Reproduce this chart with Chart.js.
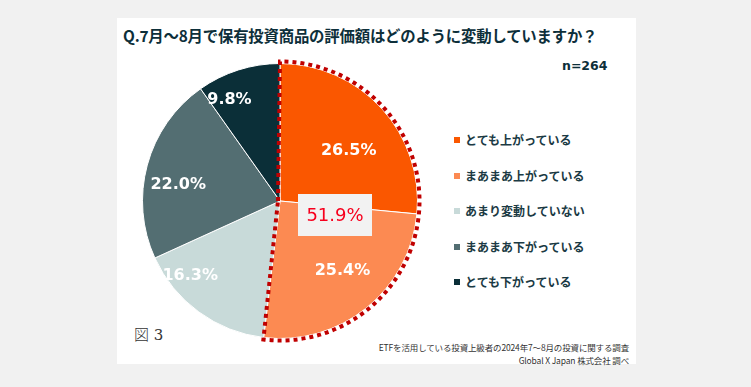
<!DOCTYPE html>
<html>
<head>
<meta charset="utf-8">
<script src="https://cdn.jsdelivr.net/npm/chart.js@4"></script>
<style>
  html, body { margin: 0; padding: 0; }
  body { width: 751px; height: 387px; background: #f1f1f1; position: relative; overflow: hidden;
         font-family: "Noto Sans CJK JP", "DejaVu Sans", sans-serif; }
  #card { position: absolute; left: 117px; top: 18px; width: 519px; height: 346px; background: #fff; }
  #title { position: absolute; left: 123px; top: 24px; font-size: 15.4px; font-weight: bold; color: #0d2f3a; white-space: nowrap; letter-spacing: -0.2px; }
  #n { position: absolute; left: 562px; top: 58px; font-family: "DejaVu Sans", sans-serif; font-size: 12.5px; font-weight: bold; color: #0d2f3a; }
  #fig { position: absolute; left: 134px; top: 323px; font-size: 15px; color: #333; font-family: "DejaVu Serif", "Noto Sans CJK JP", serif; }
  #fig .k { font-family: "Noto Sans CJK JP"; font-weight: 300; }
  #note { position: absolute; right: 122px; top: 341px; font-size: 8.5px; line-height: 13px; color: #333; text-align: right; white-space: nowrap; letter-spacing: -0.15px; }
  #legend { position: absolute; left: 454px; top: 131px; }
  #legend div { height: 35.5px; font-size: 12px; font-weight: bold; color: #1b3a44; white-space: nowrap; }
  #legend span { display: inline-block; width: 6px; height: 6px; margin-right: 5px; vertical-align: 2px; }
  canvas { position: absolute; left: 0; top: 0; }
</style>
</head>
<body>
<div id="card"></div>
<div id="title">Q.7月～8月で保有投資商品の評価額はどのように変動していますか？</div>
<div id="n">n=264</div>
<div id="legend"></div>
<div id="fig"><span class="k">図</span> 3</div>
<div id="note">ETFを活用している投資上級者の2024年7～8月の投資に関する調査<br>Global X Japan 株式会社 調べ</div>
<div style="position:absolute;left:0;top:0;width:751px;height:387px"><canvas id="myChart" width="751" height="387"></canvas></div>
<script>
// 回答データ
const labels = ['とても上がっている', 'まあまあ上がっている', 'あまり変動していない', 'まあまあ下がっている', 'とても下がっている'];
const values = [26.5, 25.4, 16.3, 22.0, 9.8];
const colors = ['#fa5700', '#fc8a52', '#c8dad9', '#536e72', '#0b2f38'];
const upTotal = '51.9%';

// ラベル位置の微調整 (角度のずれ(度), 半径に対する比率)
const labelNudge = [[6, 0.62], [-3, 0.68], [14, 0.85], [-6, 0.75], [-9, 0.82]];

const legendEl = document.getElementById('legend');
labels.forEach((l, i) => {
  const d = document.createElement('div');
  d.innerHTML = '<span style="background:' + colors[i] + '"></span>' + l;
  legendEl.appendChild(d);
});

const pieLabels = {
  id: 'pieLabels',
  afterDatasetsDraw(chart) {
    const c = chart.ctx;
    const arcs = chart.getDatasetMeta(0).data;
    const cx = arcs[0].x, cy = arcs[0].y, r = arcs[0].outerRadius;

    // 上がっている(合計)の点線枠
    c.save();
    c.strokeStyle = '#c00000';
    c.lineWidth = 4;
    c.setLineDash([4, 4]);
    c.beginPath();
    c.moveTo(cx - 2, cy);
    c.arc(cx, cy, r + 2, arcs[0].startAngle, arcs[1].endAngle);
    c.closePath();
    c.stroke();
    c.restore();

    // 各項目の％
    c.save();
    c.fillStyle = '#fff';
    c.font = 'bold 16px "DejaVu Sans"';
    c.textAlign = 'center';
    c.textBaseline = 'middle';
    arcs.forEach((a, i) => {
      const mid = (a.startAngle + a.endAngle) / 2 + labelNudge[i][0] * Math.PI / 180;
      const rr = r * labelNudge[i][1];
      c.fillText(values[i].toFixed(1) + '%', cx + Math.cos(mid) * rr, cy + Math.sin(mid) * rr);
    });

    // 合計ボックス
    c.fillStyle = '#f2f2f2';
    c.fillRect(cx + 18, cy - 7, 74, 42);
    c.fillStyle = '#f7001e';
    c.font = '18px "DejaVu Sans"';
    c.fillText(upTotal, cx + 55, cy + 15);
    c.restore();
  }
};

new Chart(document.getElementById('myChart'), {
  type: 'pie',
  data: {
    labels: labels,
    datasets: [{
      data: values,
      backgroundColor: colors,
      borderColor: '#fff',
      borderWidth: 1
    }]
  },
  options: {
    responsive: false,
    animation: false,
    layout: { padding: { left: 142, right: 333, top: 63, bottom: 48 } },
    plugins: {
      legend: { display: false },
      tooltip: { enabled: false }
    }
  },
  plugins: [pieLabels]
});
</script>
</body>
</html>
